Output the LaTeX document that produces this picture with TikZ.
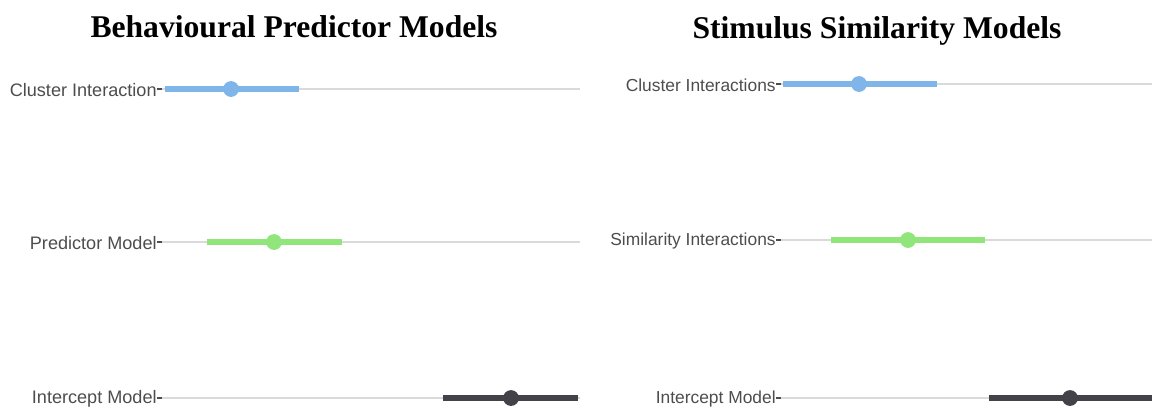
\documentclass[tikz,border=0pt]{standalone}
\usepackage{fontspec}
\setmainfont{Liberation Serif}
\setsansfont{Liberation Sans}
\usepackage{tikz}
\usetikzlibrary{positioning}
\usepackage{xcolor}
\definecolor{ciblue}{RGB}{128,181,234}
\definecolor{pmgreen}{RGB}{144,230,122}
\definecolor{imdark}{RGB}{66,66,72}
\definecolor{gridgray}{RGB}{218,218,218}
\definecolor{labgray}{RGB}{77,77,77}
\tikzstyle{title} = [font=\bfseries\fontsize{18}{21}\selectfont, inner sep=0pt]
\tikzstyle{rowlabel} = [font=\sffamily\fontsize{10.3}{12}\selectfont, text=labgray, anchor=east, inner sep=0pt]
\tikzstyle{rowlabelr} = [rowlabel, font=\sffamily\fontsize{9.9}{12}\selectfont]
\tikzstyle{gridline} = [gridgray, line width=0.6pt]
\tikzstyle{axtick} = [labgray, line width=0.6pt]
\tikzstyle{bar} = [line width=2.9pt]
\tikzstyle{est} = [circle, inner sep=0pt, minimum size=9pt]

\begin{document}
\begin{tikzpicture}[x=0.02cm, y=-0.02cm]
\useasboundingbox (0,0) rectangle (1152,413);

% Left panel
\node[title] (bpm) at (294,27) {Behavioural Predictor Models};

\node[rowlabel] (lci) at (157,90) {Cluster Interaction};
\coordinate (lcia) at (162,89);
\coordinate (lciz) at (580,89);
\draw[axtick] (lci.east |- lcia) -- (lcia);
\draw[gridline] (lcia) -- (lciz);
\coordinate (lcilo) at (165,89);
\coordinate (lcihi) at (299,89);
\draw[bar, ciblue] (lcilo) -- (lcihi);
\node[est, fill=ciblue] (lcipt) at (231,89) {};

\node[rowlabel] (lpm) at (157,243) {Predictor Model};
\coordinate (lpma) at (162,242);
\coordinate (lpmz) at (580,242);
\draw[axtick] (lpm.east |- lpma) -- (lpma);
\draw[gridline] (lpma) -- (lpmz);
\coordinate (lpmlo) at (207,242);
\coordinate (lpmhi) at (342,242);
\draw[bar, pmgreen] (lpmlo) -- (lpmhi);
\node[est, fill=pmgreen] (lpmpt) at (274,242) {};

\node[rowlabel] (lim) at (157,399) {Intercept Model};
\coordinate (lima) at (162,398);
\coordinate (limz) at (580,398);
\draw[axtick] (lim.east |- lima) -- (lima);
\draw[gridline] (lima) -- (limz);
\coordinate (limlo) at (443,398);
\coordinate (limhi) at (578,398);
\draw[bar, imdark] (limlo) -- (limhi);
\node[est, fill=imdark] (limpt) at (511,398) {};

% Right panel
\node[title] (ssm) at (877,31) {Stimulus Similarity Models};

\node[rowlabelr] (rci) at (776,85) {Cluster Interactions};
\coordinate (rcia) at (781,84);
\coordinate (rciz) at (1152,84);
\draw[axtick] (rci.east |- rcia) -- (rcia);
\draw[gridline] (rcia) -- (rciz);
\coordinate (rcilo) at (783,84);
\coordinate (rcihi) at (937,84);
\draw[bar, ciblue] (rcilo) -- (rcihi);
\node[est, fill=ciblue] (rcipt) at (859,84) {};

\node[rowlabelr] (rsi) at (776,241) {Similarity Interactions};
\coordinate (rsia) at (781,240);
\coordinate (rsiz) at (1152,240);
\draw[axtick] (rsi.east |- rsia) -- (rsia);
\draw[gridline] (rsia) -- (rsiz);
\coordinate (rsilo) at (831,240);
\coordinate (rsihi) at (985,240);
\draw[bar, pmgreen] (rsilo) -- (rsihi);
\node[est, fill=pmgreen] (rsipt) at (908,240) {};

\node[rowlabelr] (rim) at (776,399) {Intercept Model};
\coordinate (rima) at (781,398);
\coordinate (rimz) at (1152,398);
\draw[axtick] (rim.east |- rima) -- (rima);
\draw[gridline] (rima) -- (rimz);
\coordinate (rimlo) at (989,398);
\coordinate (rimhi) at (1152,398);
\draw[bar, imdark] (rimlo) -- (rimhi);
\node[est, fill=imdark] (rimpt) at (1070,398) {};
\end{tikzpicture}
\end{document}
